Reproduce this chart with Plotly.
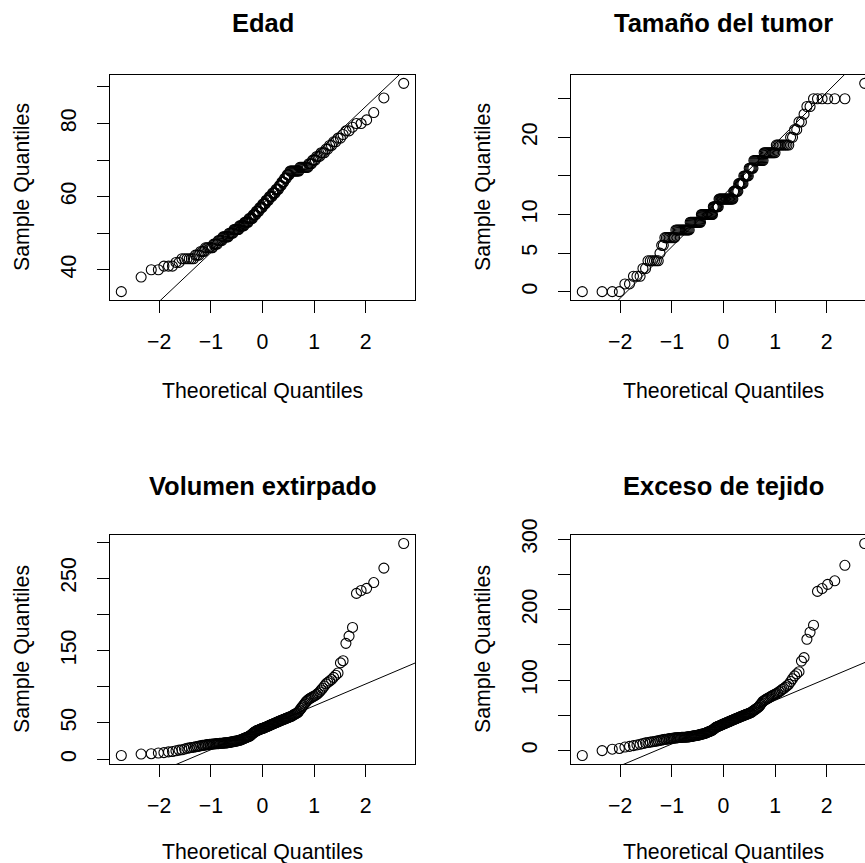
from statistics import NormalDist
import numpy as np
import plotly.graph_objects as go

# ---------------- data (sorted sample values) ----------------
edad = [34, 38, 40, 40, 41, 41, 41, 42, 42, 43,
        43, 43, 43, 43, 43, 44, 44, 44, 45, 45,
        45, 46, 46, 46, 46, 46, 46, 47, 47, 47,
        47, 48, 48, 48, 48, 49, 49, 49, 49, 49,
        49, 50, 50, 50, 50, 50, 51, 51, 51, 51,
        51, 51, 52, 52, 52, 52, 52, 52, 53, 53,
        53, 53, 53, 54, 54, 54, 54, 54, 55, 55,
        55, 55, 56, 56, 56, 56, 57, 57, 57, 57,
        58, 58, 58, 58, 59, 59, 59, 59, 60, 60,
        60, 60, 61, 61, 61, 61, 62, 62, 62, 62,
        63, 63, 63, 64, 64, 64, 65, 65, 65, 66,
        66, 66, 67, 67, 67, 67, 67, 67, 67, 67,
        67, 67, 68, 68, 68, 68, 68, 68, 68, 68,
        69, 69, 69, 70, 70, 70, 71, 71, 71, 72,
        72, 72, 73, 73, 74, 74, 75, 75, 76, 76,
        77, 78, 78, 79, 80, 80, 81, 83, 87, 91]

tamano = [0, 0, 0, 0, 1, 1, 2, 2, 2, 3,
          3, 4, 4, 4, 4, 4, 4, 5, 6, 6,
          7, 7, 7, 7, 7, 7, 7, 7, 8, 8,
          8, 8, 8, 8, 8, 8, 8, 8, 8, 8,
          8, 9, 9, 9, 9, 9, 9, 9, 9, 9,
          9, 9, 9, 10, 10, 10, 10, 10, 10, 10,
          10, 10, 10, 10, 10, 10, 10, 11, 11, 11,
          11, 11, 11, 11, 12, 12, 12, 12, 12, 12,
          12, 12, 12, 12, 12, 12, 12, 12, 12, 12,
          12, 12, 13, 13, 13, 13, 13, 13, 14, 14,
          14, 14, 14, 14, 15, 15, 15, 15, 15, 15,
          16, 16, 16, 16, 16, 17, 17, 17, 17, 17,
          17, 17, 17, 17, 17, 18, 18, 18, 18, 18,
          18, 18, 18, 18, 18, 19, 19, 19, 19, 19,
          19, 19, 19, 19, 20, 20, 21, 21, 22, 22,
          23, 24, 24, 25, 25, 25, 25, 25, 25, 27]

volumen = [5, 7, 7.5, 8.5, 9, 10, 10.5, 11.5, 12.5, 13,
           14, 15, 15.5, 16, 16.5, 17, 17.5, 18, 18.5, 19,
           19, 19.5, 20, 20, 20.5, 20.5, 21, 21, 21, 21.5,
           21.5, 21.5, 22, 22, 22, 22, 22.5, 22.5, 22.5, 22.5,
           23, 23, 23.5, 23.5, 24, 24, 24.5, 24.5, 25, 25,
           25.5, 26, 26, 26.5, 27, 27.5, 28, 28.5, 29, 29.5,
           30, 30.5, 31, 31.5, 32, 33, 34, 35, 36, 37,
           37.5, 38.5, 39, 39.5, 40, 40.5, 41, 41.5, 42, 42.5,
           42.5, 43, 43.5, 44, 44.5, 45, 45.5, 46, 46.5, 47,
           47.5, 48, 48.5, 49, 49.5, 50, 50.5, 51, 51.5, 52,
           52.5, 53, 53.5, 54, 54.5, 55, 55.5, 56, 56.5, 57,
           57.5, 58, 58.5, 59, 59.5, 60.5, 61.5, 62, 63, 63.5,
           64.5, 66, 68, 70, 72, 74, 76, 78, 80, 81.5,
           83, 84, 85, 86, 87, 88, 89.5, 91, 93, 95.5,
           98, 101, 104, 106, 108, 110, 113, 116, 119, 133,
           136, 160, 170, 182, 229, 233, 236, 244, 264, 298]

exceso = [-7, 0, 2, 3, 5, 6, 7, 8, 9, 10,
          11, 11.5, 12, 12.5, 13, 13.5, 14, 14.5, 15, 15.5,
          16, 16, 16.5, 17, 17, 17.5, 17.5, 18, 18, 18,
          18.5, 18.5, 18.5, 19, 19, 19, 19, 19, 19.5, 19.5,
          19.5, 20, 20, 20.5, 20.5, 21, 21, 21.5, 21.5, 22,
          22, 22.5, 23, 23, 23.5, 24, 24, 24.5, 25, 25.5,
          26, 26.5, 27, 27.5, 28, 28.5, 29, 30, 31, 32,
          33, 33.5, 34, 34.5, 35, 35.5, 36, 36.5, 37, 37.5,
          38, 38.5, 39, 39.5, 40, 40.5, 41, 41.5, 42, 42.5,
          43, 43.5, 44, 44.5, 45, 45.5, 46, 46.5, 47, 47.5,
          48, 48.5, 49, 49.5, 50, 50.5, 51, 51.5, 52, 52.5,
          53, 53.5, 54, 55, 56, 57, 58, 59, 60, 61,
          62, 64, 66, 68, 70, 71, 72, 73, 74, 75,
          76, 77, 78, 79, 80, 81, 82, 83.5, 85, 87,
          88, 90, 92, 94, 98, 102, 106, 109, 112, 127,
          132, 158, 168, 178, 226, 230, 236, 241, 263, 294]

titles = ["Edad", "Tamaño del tumor", "Volumen extirpado", "Exceso de tejido"]
x_ticks = [-2, -1, 0, 1, 2]
y_tickvals = [[40, 50, 60, 70, 80, 90],
              [0, 5, 10, 15, 20, 25],
              [0, 50, 100, 150, 200, 250, 300],
              [0, 50, 100, 150, 200, 250, 300]]
y_ticktext = [["40", "", "60", "", "80", ""],
              ["0", "5", "10", "", "20", ""],
              ["0", "50", "", "150", "", "250", ""],
              ["0", "", "100", "", "200", "", "300"]]
series = [edad, tamano, volumen, exceso]

# ---------------- layout geometry (pixels) ----------------
W, H = 865, 863
FONT = "Liberation Sans, Arial, Helvetica, sans-serif"
LAB = 21.3
MAIN = 25.5


def fx(px):
    return px / W


def fy(py):
    return 1 - py / H


panels = [
    dict(x0=110, x1=415, y0=75, y1=300, right=False),
    dict(x0=571, x1=None, y0=75, y1=300, right=True),
    dict(x0=110, x1=415, y0=535, y1=764, right=False),
    dict(x0=571, x1=None, y0=535, y1=764, right=True),
]
title_y = [23.5, 23.5, 486.5, 486.5]
xlab_y = [390.5, 390.5, 851.5, 851.5]
panel_cx = [262.5, 723.5, 262.5, 723.5]
ylab_x = [21.5, 482.5, 21.5, 482.5]

fig = go.Figure()
nd = NormalDist()
annotations = []

for k, y in enumerate(series):
    y = np.sort(np.asarray(y, dtype=float))
    n = len(y)
    a = 0.5 if n > 10 else 3 / 8
    z = np.array([nd.inv_cdf((i - a) / (n + 1 - 2 * a)) for i in range(1, n + 1)])
    # qqline through the quartiles
    q1, q3 = np.percentile(y, [25, 75])
    z1, z3 = nd.inv_cdf(0.25), nd.inv_cdf(0.75)
    slope = (q3 - q1) / (z3 - z1)
    icpt = q1 - slope * z1

    xs = "x" if k == 0 else f"x{k + 1}"
    ys = "y" if k == 0 else f"y{k + 1}"

    fig.add_trace(go.Scatter(
        x=z, y=y, mode="markers", xaxis=xs, yaxis=ys, cliponaxis=False,
        marker=dict(symbol="circle-open", size=10, color="black",
                    line=dict(width=1.1, color="black")),
        showlegend=False, hoverinfo="skip"))
    lx = np.array([-4.0, 4.0])
    fig.add_trace(go.Scatter(
        x=lx, y=icpt + slope * lx, mode="lines", xaxis=xs, yaxis=ys,
        line=dict(color="black", width=1), showlegend=False, hoverinfo="skip"))

    # R default ranges: data range +/- 4 %
    xlo = z.min() - 0.04 * (z.max() - z.min())
    xhi = z.max() + 0.04 * (z.max() - z.min())
    ylo = y.min() - 0.04 * (y.max() - y.min())
    yhi = y.max() + 0.04 * (y.max() - y.min())

    p = panels[k]
    if p["right"]:
        scale = (415 - 110) / (xhi - xlo)
        xhi_vis = xlo + (W - p["x0"]) / scale
        xdom = [fx(p["x0"]), 1.0]
        xr = [xlo, xhi_vis]
    else:
        xdom = [fx(p["x0"]), fx(p["x1"])]
        xr = [xlo, xhi]
    ydom = [fy(p["y1"]), fy(p["y0"])]

    axis_common = dict(showline=True, linecolor="black", linewidth=1.3,
                       ticks="outside", ticklen=12, tickwidth=1.2, tickcolor="black",
                       showgrid=False, zeroline=False, automargin=False,
                       tickfont=dict(family=FONT, size=LAB, color="black"))
    xname = "xaxis" if k == 0 else f"xaxis{k + 1}"
    yname = "yaxis" if k == 0 else f"yaxis{k + 1}"
    fig.update_layout(**{
        xname: dict(domain=xdom, range=xr, anchor=ys, tickvals=x_ticks,
                    ticktext=["\u22122", "\u22121", "0", "1", "2"],
                    mirror=True, ticklabelstandoff=10, **axis_common),
        yname: dict(domain=ydom, range=[ylo, yhi], anchor=xs,
                    tickvals=y_tickvals[k], ticktext=y_ticktext[k],
                    tickangle=-90, mirror=not p["right"], ticklabelstandoff=12,
                    **axis_common),
    })

    annotations.append(dict(text=f"<b>{titles[k]}</b>", x=fx(panel_cx[k]), y=fy(title_y[k]),
                            xref="paper", yref="paper", xanchor="center", yanchor="middle",
                            showarrow=False, font=dict(family=FONT, size=MAIN, color="black")))
    annotations.append(dict(text="Theoretical Quantiles", x=fx(panel_cx[k]), y=fy(xlab_y[k]),
                            xref="paper", yref="paper", xanchor="center", yanchor="middle",
                            showarrow=False, font=dict(family=FONT, size=LAB, color="black")))
    annotations.append(dict(text="Sample Quantiles", x=fx(ylab_x[k]),
                            y=fy((p["y0"] + p["y1"]) / 2),
                            xref="paper", yref="paper", xanchor="center", yanchor="middle",
                            textangle=-90, showarrow=False,
                            font=dict(family=FONT, size=LAB, color="black")))

fig.update_layout(width=W, height=H, margin=dict(l=0, r=0, t=0, b=0, autoexpand=False),
                  paper_bgcolor="white", plot_bgcolor="white",
                  annotations=annotations, showlegend=False)

fig.write_html("out.html")
